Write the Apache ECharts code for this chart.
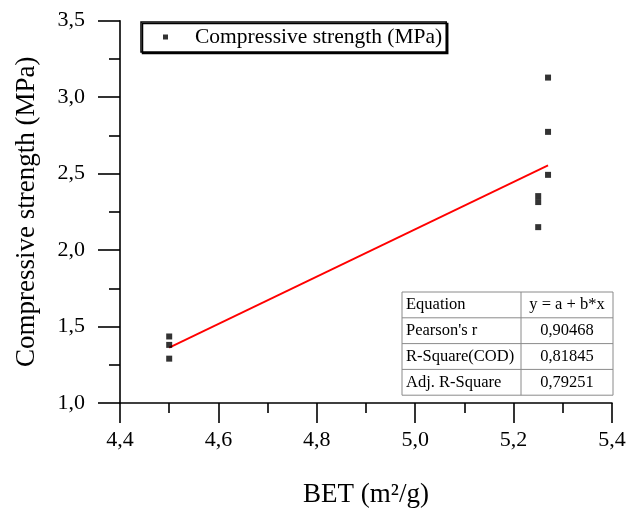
<!DOCTYPE html>
<html>
<head>
<meta charset="utf-8">
<script src="https://cdn.jsdelivr.net/npm/echarts@6/dist/echarts.min.js"></script>
<style>
html,body{margin:0;padding:0;background:#fff;}
#chart{width:629px;height:513px;}
</style>
</head>
<body>
<div id="chart"></div>
<script>
// ---- data ----
var betValues = [4.5, 4.5, 4.5, 5.25, 5.25, 5.25, 5.27, 5.27, 5.27];
var strengthValues = [1.435, 1.38, 1.29, 2.353, 2.314, 2.15, 3.128, 2.773, 2.492];
var seriesName = 'Compressive strength (MPa)';
var xTicks = [4.4, 4.6, 4.8, 5.0, 5.2, 5.4];
var yTicks = [1.0, 1.5, 2.0, 2.5, 3.0, 3.5];
var tableLabels = ['Equation', "Pearson's r", 'R-Square(COD)', 'Adj. R-Square'];
var tableValues = ['y = a + b*x', '0,90468', '0,81845', '0,79251'];

// linear least-squares fit of the data
function fit(xs, ys) {
  var n = xs.length, mx = 0, my = 0;
  for (var i = 0; i < n; i++) { mx += xs[i]; my += ys[i]; }
  mx /= n; my /= n;
  var sxx = 0, sxy = 0;
  for (var j = 0; j < n; j++) { sxx += (xs[j]-mx)*(xs[j]-mx); sxy += (xs[j]-mx)*(ys[j]-my); }
  var b = sxy / sxx;
  return { a: my - b*mx, b: b };
}
var f = fit(betValues, strengthValues);
var xMin = Math.min.apply(null, betValues), xMax = Math.max.apply(null, betValues);
var fitLine = [[xMin, f.a + f.b*xMin], [xMax, f.a + f.b*xMax]];

var points = betValues.map(function (x, i) { return [x, strengthValues[i]]; });

var FONT = 'Liberation Serif';
function comma(v) { return v.toFixed(1).replace('.', ','); }

var chart = echarts.init(document.getElementById('chart'), null, { renderer: 'canvas' });

// table graphic
var tLeft = 402, tTop = 292, tW = 211, rowH = 25.8, colX = 521;
var tableEls = [];
tableEls.push({ type: 'rect', shape: { x: tLeft, y: tTop, width: tW, height: rowH*tableLabels.length },
  style: { fill: '#fff', stroke: '#8a8a8a', lineWidth: 1 }, z: 100 });
for (var r = 1; r < tableLabels.length; r++) {
  tableEls.push({ type: 'line', shape: { x1: tLeft, y1: tTop + r*rowH, x2: tLeft + tW, y2: tTop + r*rowH },
    style: { stroke: '#8a8a8a', lineWidth: 1 }, z: 101 });
}
tableEls.push({ type: 'line', shape: { x1: colX, y1: tTop, x2: colX, y2: tTop + rowH*tableLabels.length },
  style: { stroke: '#8a8a8a', lineWidth: 1 }, z: 101 });
for (var k = 0; k < tableLabels.length; k++) {
  tableEls.push({ type: 'text', x: tLeft + 4, y: tTop + k*rowH + rowH/2, z: 102,
    style: { text: tableLabels[k], font: '16.5px "' + FONT + '"', fill: '#000', textVerticalAlign: 'middle', verticalAlign: 'middle' } });
  tableEls.push({ type: 'text', x: (colX + tLeft + tW)/2, y: tTop + k*rowH + rowH/2, z: 102,
    style: { text: tableValues[k], font: '16.5px "' + FONT + '"', fill: '#000', align: 'center', textAlign: 'center', verticalAlign: 'middle', textVerticalAlign: 'middle' } });
}

var option = {
  animation: false,
  backgroundColor: '#fff',
  textStyle: { fontFamily: FONT },
  grid: { left: 120, right: 17, top: 20.7, bottom: 110, containLabel: false },
  legend: {
    left: 141, top: 22,
    padding: [4, 4, 4, 22],
    backgroundColor: '#fff',
    borderColor: '#000', borderWidth: 1.5,
    shadowColor: '#000', shadowBlur: 0, shadowOffsetX: 1.5, shadowOffsetY: 1.5,
    itemWidth: 5, itemHeight: 5,
    data: [{ name: seriesName, icon: 'rect' }],
    textStyle: { fontFamily: FONT, fontSize: 21.5, color: '#000', padding: [0, 0, 0, 22] }
  },
  xAxis: {
    type: 'value', min: 4.4, max: 5.4, interval: 0.2,
    name: 'BET (m²/g)', nameLocation: 'middle', nameGap: 78,
    nameTextStyle: { fontFamily: FONT, fontSize: 27, color: '#000' },
    axisLine: { show: true, onZero: false, lineStyle: { color: '#000', width: 1.6 } },
    axisTick: { show: true, inside: false, length: 20, lineStyle: { color: '#000', width: 1.6 } },
    minorTick: { show: true, splitNumber: 2, length: 10, lineStyle: { color: '#000', width: 1.6 } },
    axisLabel: { margin: 26, fontFamily: FONT, fontSize: 22, color: '#000', formatter: function (v) { return comma(v); },
      customValues: xTicks },
    splitLine: { show: false }
  },
  yAxis: {
    type: 'value', min: 1.0, max: 3.5, interval: 0.5,
    name: 'Compressive strength (MPa)', nameLocation: 'middle', nameGap: 80, nameRotate: 90,
    nameTextStyle: { fontFamily: FONT, fontSize: 27, color: '#000' },
    axisLine: { show: true, onZero: false, lineStyle: { color: '#000', width: 1.6 } },
    axisTick: { show: true, inside: false, length: 22, lineStyle: { color: '#000', width: 1.6 } },
    minorTick: { show: true, splitNumber: 2, length: 11, lineStyle: { color: '#000', width: 1.6 } },
    axisLabel: { margin: 35, fontFamily: FONT, fontSize: 22, color: '#000', formatter: function (v) { return comma(v); },
      customValues: yTicks },
    splitLine: { show: false }
  },
  series: [
    {
      name: seriesName, type: 'scatter', symbol: 'rect', symbolSize: 6,
      itemStyle: { color: '#000' }, data: points, z: 5
    },
    {
      name: 'fit', type: 'line', data: fitLine, symbol: 'none',
      lineStyle: { color: '#ff0000', width: 1.8 }, z: 4, silent: true
    }
  ],
  graphic: tableEls
};
chart.setOption(option);
</script>
</body>
</html>
